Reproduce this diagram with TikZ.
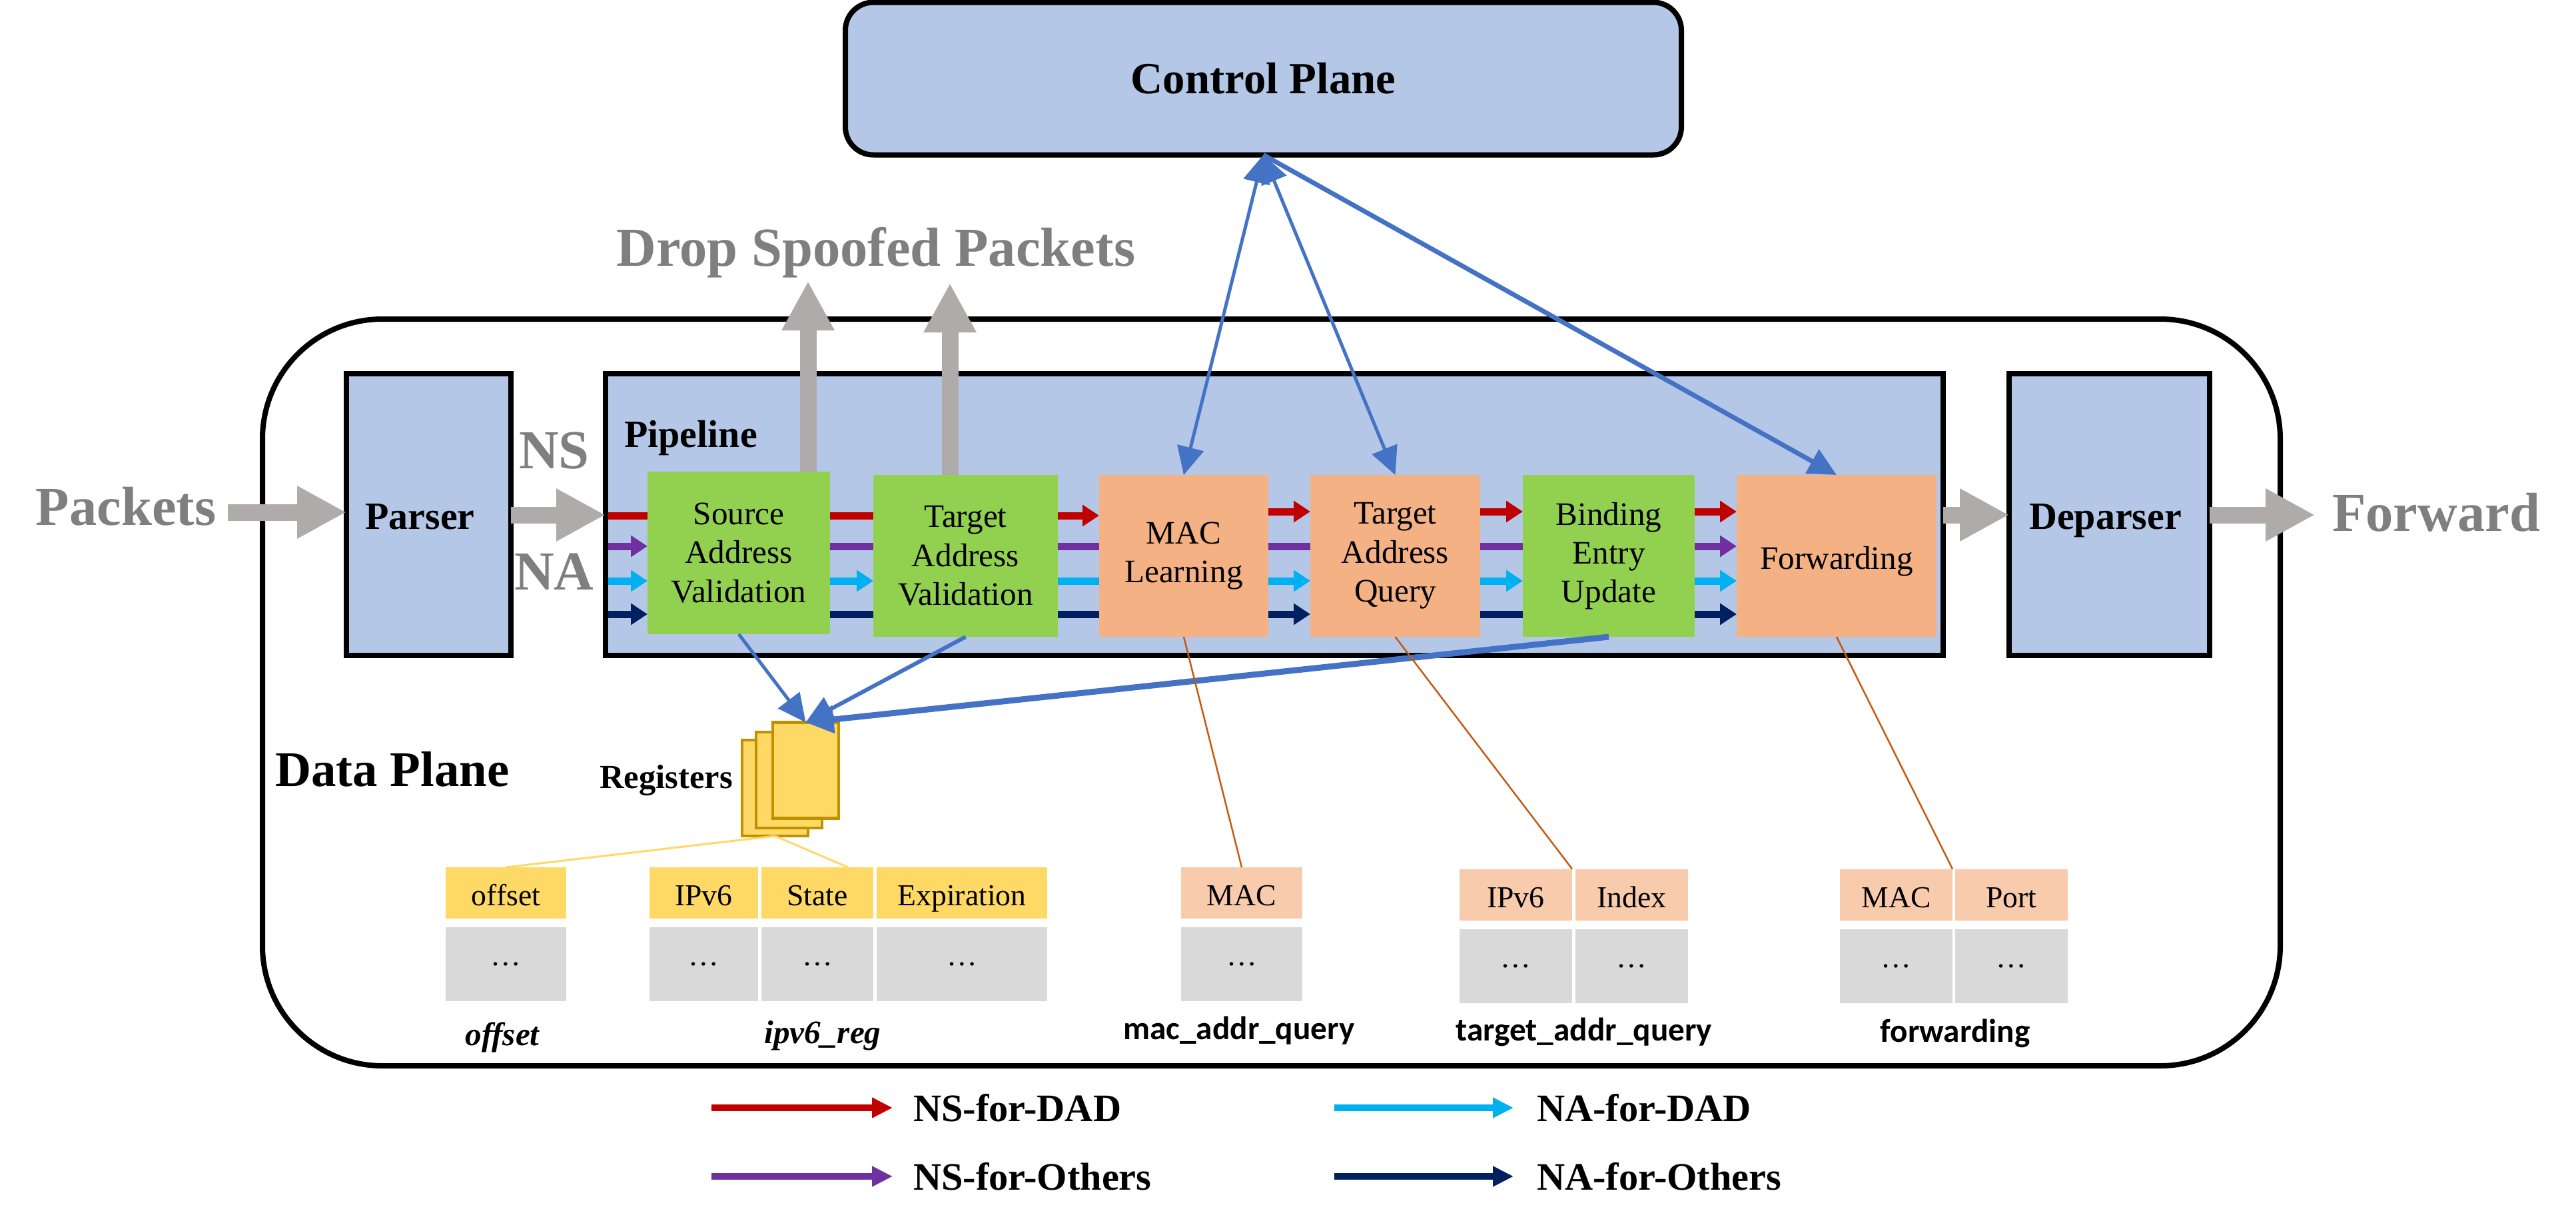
\documentclass[tikz,border=0pt]{standalone}
\usepackage{fontspec}
\setmainfont{Liberation Serif}
\newfontfamily\tablefont{Carlito}
\usetikzlibrary{arrows.meta}

\definecolor{planeblue}{HTML}{B4C7E7}
\definecolor{stagegreen}{HTML}{92D050}
\definecolor{stageorange}{HTML}{F4B183}
\definecolor{cellorange}{HTML}{F8CBAD}
\definecolor{cellyellow}{HTML}{FFD966}
\definecolor{regborder}{HTML}{BF9000}
\definecolor{cellgray}{HTML}{D9D9D9}
\definecolor{flowgray}{HTML}{AFABAB}
\definecolor{textgray}{HTML}{7F7F7F}
\definecolor{linkblue}{HTML}{4472C4}
\definecolor{tableline}{HTML}{C55A11}
\definecolor{nsdadcol}{HTML}{C00000}
\definecolor{nsothercol}{HTML}{7030A0}
\definecolor{nadadcol}{HTML}{00B0F0}
\definecolor{naothercol}{HTML}{002060}

\tikzset{
    planebox/.style={draw=black, line width=.08cm, fill=planeblue, inner sep=0, outer sep=0, font=\bfseries\fontsize{16.5}{20}\selectfont},
    endbox/.style={planebox, minimum height=4.23cm, text height=.6cm, text depth=.16cm},
    stagebox/.style={inner sep=0, outer sep=0, align=center, font=\fontsize{14}{16.6}\selectfont},
    check/.style={stagebox, fill=stagegreen},
    lookup/.style={stagebox, fill=stageorange},
    grayword/.style={inner sep=0, outer sep=0, text=textgray, font=\bfseries\fontsize{23.5}{28}\selectfont},
    blackword/.style={inner sep=0, outer sep=0, font=\bfseries\fontsize{16.5}{20}\selectfont},
    grayflow/.style={draw=flowgray, line width=.25cm, -{Triangle[length=.74cm, width=.74cm]}},
    nsdad/.style={draw=nsdadcol, line width=.11cm},
    nsother/.style={draw=nsothercol, line width=.11cm},
    nadad/.style={draw=nadadcol, line width=.11cm},
    naother/.style={draw=naothercol, line width=.11cm},
    flowhead/.style={-{Triangle[length=.25cm, width=.31cm]}},
    flowplain/.style={},
    legendhead/.style={line width=.095cm, -{Triangle[length=.31cm, width=.29cm]}},
    link/.style={draw=linkblue, line width=.05cm, -{Triangle[length=.42cm, width=.40cm]}},
    biglink/.style={link, {Triangle[length=.42cm, width=.40cm]}-{Triangle[length=.42cm, width=.40cm]}},
    regsheet/.style={draw=regborder, fill=cellyellow, line width=.045cm, inner sep=0, outer sep=0, minimum width=.99cm, minimum height=1.44cm},
    cell/.style={inner sep=0, outer sep=0, font=\fontsize{13}{16}\selectfont},
    regcell/.style={cell, fill=cellyellow, minimum height=.77cm, text height=.44cm, text depth=.06cm},
    tabcell/.style={cell, fill=cellorange, minimum height=.77cm, text height=.44cm, text depth=.06cm},
    rowcell/.style={cell, fill=cellgray, minimum height=1.11cm},
    regname/.style={inner sep=0, outer sep=0, font=\bfseries\itshape\fontsize{14}{17}\selectfont},
    tabname/.style={inner sep=0, outer sep=0, font=\tablefont\bfseries\fontsize{14}{17}\selectfont},
    legendword/.style={anchor=west, inner sep=0, outer sep=0, font=\bfseries\fontsize{16.6}{20}\selectfont}
}

\begin{document}
\begin{tikzpicture}[x=1cm, y=-1cm, line join=miter]
    \useasboundingbox (0,0) rectangle (38.67,18.38);

    % planes and big boxes
    \node[draw=black, line width=.08cm, rounded corners=1.8cm, inner sep=0, outer sep=0, minimum width=30.29cm, minimum height=11.21cm] (dataplane) at (19.085,10.395) {};
    \node[planebox, rounded corners=.42cm, minimum width=12.55cm, minimum height=2.29cm, font=\bfseries\fontsize{19}{23}\selectfont] (control) at (18.965,1.18) {Control Plane};
    \node[endbox, minimum width=2.47cm] (parser) at (6.435,7.725) {Parser\hspace{.26cm}\mbox{}};
    \node[planebox, minimum width=20.08cm, minimum height=4.23cm] (pipe) at (19.13,7.725) {};
    \node[endbox, minimum width=3.01cm] (deparser) at (31.665,7.725) {Deparser\hspace{.12cm}\mbox{}};

    \node[blackword] (pipelabel) at (10.37,6.58) {Pipeline};
    \node[blackword, font=\bfseries\fontsize{21.3}{25}\selectfont] (datalabel) at (5.89,11.55) {Data Plane};
    \node[grayword] (packets) at (1.89,7.6) {Packets};
    \node[grayword] (forward) at (36.57,7.69) {Forward};
    \node[grayword] (nslabel) at (8.32,6.77) {NS};
    \node[grayword] (nalabel) at (8.32,8.58) {NA};
    \node[grayword] (drop) at (13.15,3.79) {Drop Spoofed Packets};

    % stages of the pipeline
    \node[check, minimum width=2.74cm, minimum height=2.44cm] (src) at (11.09,8.30) {Source\\Address\\Validation};
    \node[check, minimum width=2.77cm, minimum height=2.43cm] (tav) at (14.495,8.345) {Target\\Address\\Validation};
    \node[lookup, minimum width=2.54cm, minimum height=2.43cm] (mac) at (17.77,8.345) {MAC\\Learning};
    \node[lookup, minimum width=2.55cm, minimum height=2.43cm] (taq) at (20.945,8.345) {Target\\Address\\Query};
    \node[check, minimum width=2.58cm, minimum height=2.43cm] (beu) at (24.15,8.345) {Binding\\Entry\\Update};
    \node[lookup, minimum width=3.00cm, minimum height=2.43cm, text height=.5cm, text depth=.11cm] (fwd) at (27.57,8.345) {Forwarding};

    % coloured tracks
    \draw[nsdad] ([xshift=.04cm]pipe.west |- 0,7.74) -- (src.west |- 0,7.74);
    \draw[nsother, flowhead] ([xshift=.04cm]pipe.west |- 0,8.20) -- (src.west |- 0,8.20);
    \draw[nadad, flowhead] ([xshift=.04cm]pipe.west |- 0,8.72) -- (src.west |- 0,8.72);
    \draw[naother, flowhead] ([xshift=.04cm]pipe.west |- 0,9.22) -- (src.west |- 0,9.22);
    \foreach \from/\dest/\ends/\ytrack in {src/tav/flowplain/7.74, tav/mac/flowhead/7.74, mac/taq/flowhead/7.68, taq/beu/flowhead/7.68, beu/fwd/flowhead/7.68}
        \draw[nsdad, \ends] (\from.east |- 0,\ytrack) -- (\dest.west |- 0,\ytrack);
    \foreach \from/\dest/\ends in {src/tav/flowplain, tav/mac/flowplain, mac/taq/flowplain, taq/beu/flowplain, beu/fwd/flowhead}
        \draw[nsother, \ends] (\from.east |- 0,8.20) -- (\dest.west |- 0,8.20);
    \foreach \from/\dest/\ends in {src/tav/flowhead, tav/mac/flowplain, mac/taq/flowhead, taq/beu/flowhead, beu/fwd/flowhead}
        \draw[nadad, \ends] (\from.east |- 0,8.72) -- (\dest.west |- 0,8.72);
    \foreach \from/\dest/\ends in {src/tav/flowplain, tav/mac/flowplain, mac/taq/flowhead, taq/beu/flowplain, beu/fwd/flowhead}
        \draw[naother, \ends] (\from.east |- 0,9.22) -- (\dest.west |- 0,9.22);

    % gray packet flow
    \coordinate (packetsout) at (3.42,7.69);
    \coordinate (trunk) at (0,7.73);
    \coordinate (dropa) at (12.13,4.22);
    \coordinate (dropb) at (14.26,4.25);
    \draw[grayflow] (packetsout) -- (packetsout -| parser.west);
    \draw[grayflow] (parser.east |- trunk) -- (pipe.west |- trunk);
    \draw[grayflow] (pipe.east |- trunk) -- (deparser.west |- trunk);
    \draw[grayflow, shorten >=.26cm] (deparser.east |- trunk) -- (forward.west |- trunk);
    \draw[grayflow] (src.north -| dropa) -- (dropa);
    \draw[grayflow] (tav.north -| dropb) -- (dropb);

    % registers
    \node[regsheet] (regback) at (11.635,11.83) {};
    \node[regsheet] (regmid) at (11.845,11.71) {};
    \node[regsheet] (regfront) at (12.095,11.565) {};
    \node[inner sep=0, outer sep=0, font=\bfseries\fontsize{14.4}{18}\selectfont] (reglabel) at (10.0,11.72) {Registers};

    % links to the control plane and the registers
    \draw[biglink] (control.south) -- (mac.north);
    \draw[biglink] (control.south) -- (taq.north);
    \draw[link, line width=.07cm] (control.south) -- (fwd.north);
    \draw[link] (src.south) -- (regfront.north);
    \draw[link, line width=.06cm] (tav.south) -- (regfront.north);
    \draw[link, line width=.09cm] (beu.south) -- (regfront.north);

    % tables
    \node[regcell, minimum width=1.81cm] (offsethead) at (7.595,13.405) {offset};
    \node[rowcell, minimum width=1.81cm] (offsetrow) at (7.595,14.475) {…};
    \node[regname] (offsetname) at (7.54,15.57) {offset};

    \node[regcell, minimum width=1.63cm] (ipv6head) at (10.565,13.405) {IPv6};
    \node[regcell, minimum width=1.68cm] (statehead) at (12.27,13.405) {State};
    \node[regcell, minimum width=2.56cm] (exphead) at (14.44,13.405) {Expiration};
    \node[rowcell, minimum width=1.63cm] (ipv6row) at (10.565,14.475) {…};
    \node[rowcell, minimum width=1.68cm] (staterow) at (12.27,14.475) {…};
    \node[rowcell, minimum width=2.56cm] (exprow) at (14.44,14.475) {…};
    \node[regname] (ipv6name) at (12.35,15.55) {ipv6\_reg};

    \node[tabcell, minimum width=1.82cm] (machead) at (18.64,13.405) {MAC};
    \node[rowcell, minimum width=1.82cm] (macrow) at (18.64,14.475) {…};
    \node[tabname] (macname) at (18.60,15.47) {mac\_addr\_query};

    \node[tabcell, minimum width=1.69cm] (targethead) at (22.755,13.43) {IPv6};
    \node[tabcell, minimum width=1.69cm] (indexhead) at (24.495,13.43) {Index};
    \node[rowcell, minimum width=1.69cm] (targetrow) at (22.755,14.505) {…};
    \node[rowcell, minimum width=1.69cm] (indexrow) at (24.495,14.505) {…};
    \node[tabname] (targetname) at (23.78,15.49) {target\_addr\_query};

    \node[tabcell, minimum width=1.69cm] (fwdmachead) at (28.465,13.43) {MAC};
    \node[tabcell, minimum width=1.69cm] (porthead) at (30.195,13.43) {Port};
    \node[rowcell, minimum width=1.69cm] (fwdmacrow) at (28.465,14.505) {…};
    \node[rowcell, minimum width=1.69cm] (portrow) at (30.195,14.505) {…};
    \node[tabname] (fwdname) at (29.35,15.51) {forwarding};

    % thin lines down to the tables
    \draw[cellyellow, line width=.03cm] (regback.south) -- (offsethead.north);
    \draw[cellyellow, line width=.03cm] (regback.south) -- ([xshift=.46cm]statehead.north);
    \draw[tableline, line width=.025cm] (mac.south) -- (machead.north);
    \draw[tableline, line width=.025cm] (taq.south) -- (targethead.north east);
    \draw[tableline, line width=.025cm] (fwd.south) -- (fwdmachead.north east);

    % legend
    \node[legendword] (legnsdad) at (13.71,16.63) {NS-for-DAD};
    \node[legendword] (legnsother) at (13.71,17.66) {NS-for-Others};
    \node[legendword] (legnadad) at (23.07,16.63) {NA-for-DAD};
    \node[legendword] (legnaother) at (23.07,17.66) {NA-for-Others};
    \coordinate (startnsdad) at (10.68,16.63);
    \coordinate (startnsother) at (10.68,17.66);
    \coordinate (startnadad) at (20.03,16.63);
    \coordinate (startnaother) at (20.03,17.66);
    \draw[nsdad, legendhead, shorten >=.31cm] (startnsdad) -- (legnsdad.west);
    \draw[nsother, legendhead, shorten >=.31cm] (startnsother) -- (legnsother.west);
    \draw[nadad, legendhead, shorten >=.35cm] (startnadad) -- (legnadad.west);
    \draw[naother, legendhead, shorten >=.35cm] (startnaother) -- (legnaother.west);
\end{tikzpicture}
\end{document}
